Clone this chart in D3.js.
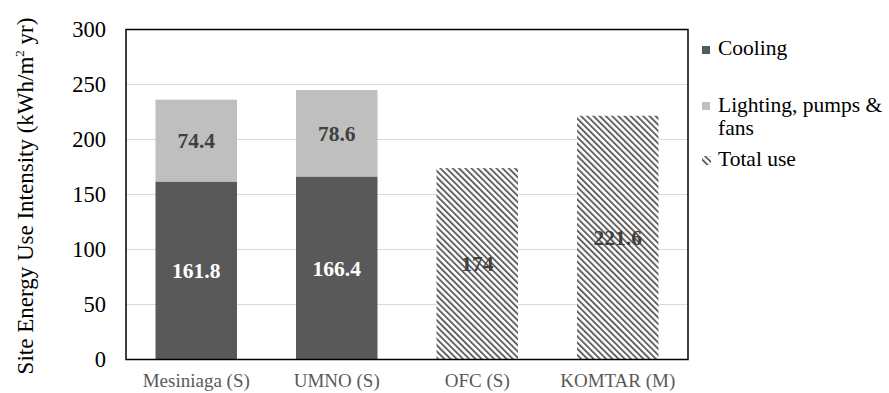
<!DOCTYPE html>
<html>
<head>
<meta charset="utf-8">
<script src="https://cdn.jsdelivr.net/npm/d3@7"></script>
<style>
  html, body { margin: 0; padding: 0; background: #fff; }
  svg { display: block; }
</style>
</head>
<body>
<svg id="chart" width="889" height="393"></svg>
<script>
// ---- data ----
const categories = ["Mesiniaga (S)", "UMNO (S)", "OFC (S)", "KOMTAR (M)"];
const cooling = [161.8, 166.4, null, null];
const lighting = [74.4, 78.6, null, null];
const totalUse = [null, null, 174, 221.6];
const yTicks = [0, 50, 100, 150, 200, 250, 300];
const legendLabels = ["Cooling", "Lighting, pumps & fans", "Total use"];

// ---- layout ----
const W = 889, H = 393;
const margin = { left: 126, top: 29.5, right: 201, bottom: 33.5 };
const pw = W - margin.left - margin.right;   // 562
const ph = H - margin.top - margin.bottom;   // 330
const FONT = '"Liberation Serif", monospace';

const svg = d3.select("#chart");

const defs = svg.append("defs");
const pat = defs.append("pattern")
  .attr("id", "hatch")
  .attr("patternUnits", "userSpaceOnUse")
  .attr("width", 4.4).attr("height", 4.4)
  .attr("patternTransform", "rotate(-45)");
pat.append("rect").attr("width", 4.4).attr("height", 4.4).attr("fill", "#ffffff");
pat.append("rect").attr("x", 0).attr("y", 0).attr("width", 1.9).attr("height", 4.4).attr("fill", "#606060");

const g = svg.append("g").attr("transform", `translate(${margin.left},${margin.top})`);

const x = d3.scaleBand().domain(categories).range([0, pw]).paddingInner(0.42).paddingOuter(0.21);
const y = d3.scaleLinear().domain([0, 300]).range([ph, 0]);

// gridlines
g.append("g").selectAll("line").data(yTicks.filter(t => t > 0 && t < 300)).join("line")
  .attr("x1", 0).attr("x2", pw)
  .attr("y1", d => y(d)).attr("y2", d => y(d))
  .attr("stroke", "#d9d9d9").attr("stroke-width", 1.2);

const rows = categories.map((c, i) => ({ c, cooling: cooling[i], lighting: lighting[i], total: totalUse[i] }));

g.append("g").selectAll("rect").data(rows.filter(r => r.cooling != null)).join("rect")
  .attr("x", d => x(d.c)).attr("width", x.bandwidth())
  .attr("y", d => y(d.cooling)).attr("height", d => y(0) - y(d.cooling))
  .attr("fill", "#595959");

g.append("g").selectAll("rect").data(rows.filter(r => r.lighting != null)).join("rect")
  .attr("x", d => x(d.c)).attr("width", x.bandwidth())
  .attr("y", d => y(d.cooling + d.lighting)).attr("height", d => y(d.cooling) - y(d.cooling + d.lighting))
  .attr("fill", "#bfbfbf");

g.append("g").selectAll("rect").data(rows.filter(r => r.total != null)).join("rect")
  .attr("x", d => x(d.c)).attr("width", x.bandwidth())
  .attr("y", d => y(d.total)).attr("height", d => y(0) - y(d.total))
  .attr("fill", "url(#hatch)");

const lab = g.append("g");
function vlabel(xp, yp, txt, col) {
  lab.append("text").attr("x", xp).attr("y", yp).attr("dy", "0.35em")
    .attr("text-anchor", "middle").attr("fill", col)
    .style("font-family", FONT).style("font-size", "21.5px").style("font-weight", "bold")
    .text(txt);
}
rows.filter(r => r.cooling != null).forEach(r => {
  vlabel(x(r.c) + x.bandwidth() / 2, y(r.cooling / 2), r.cooling, "#ffffff");
  vlabel(x(r.c) + x.bandwidth() / 2, y(r.cooling + r.lighting / 2), r.lighting, "#404040");
});
rows.filter(r => r.total != null).forEach(r => {
  vlabel(x(r.c) + x.bandwidth() / 2, y(r.total / 2), r.total, "#404040");
});

g.append("rect").attr("x", 0).attr("y", 0).attr("width", pw).attr("height", ph)
  .attr("fill", "none").attr("stroke", "#000").attr("stroke-width", 1.5);

const ya = g.append("g").call(d3.axisLeft(y).tickValues(yTicks).tickSize(0).tickPadding(20));
ya.select(".domain").remove();
ya.selectAll("text").style("font-family", FONT).style("font-size", "22.5px").attr("fill", "#000");

const xa = g.append("g").attr("transform", `translate(0,${ph})`).call(d3.axisBottom(x).tickSize(0).tickPadding(14));
xa.select(".domain").remove();
xa.selectAll("text").style("font-family", FONT).style("font-size", "19px").attr("fill", "#595959");

const yt = svg.append("text")
  .attr("transform", `translate(33,196) rotate(-90)`)
  .attr("text-anchor", "middle").attr("fill", "#000")
  .style("font-family", FONT).style("font-size", "23px");
yt.append("tspan").text("Site Energy Use Intensity (kWh/m");
yt.append("tspan").style("font-size", "13px").attr("dy", "-9").text("2");
yt.append("tspan").attr("dy", "9").text(" yr)");

const lg = svg.append("g");
const lx = 702;
function ltext(xp, yp) {
  return lg.append("text").attr("x", xp).attr("y", yp).attr("fill", "#000")
    .style("font-family", FONT).style("font-size", "21.5px");
}
lg.append("rect").attr("x", lx).attr("y", 46).attr("width", 8).attr("height", 8).attr("fill", "#595959");
ltext(lx + 16, 55).text(legendLabels[0]);
lg.append("rect").attr("x", lx).attr("y", 102).attr("width", 8).attr("height", 8).attr("fill", "#bfbfbf");
const t2 = ltext(lx + 16, 112);
t2.append("tspan").text("Lighting, pumps &");
t2.append("tspan").attr("x", lx + 16).attr("dy", 23).text("fans");
lg.append("rect").attr("x", lx).attr("y", 156).attr("width", 9).attr("height", 9).attr("fill", "url(#hatch)");
ltext(lx + 16, 166).text(legendLabels[2]);
</script>
</body>
</html>
